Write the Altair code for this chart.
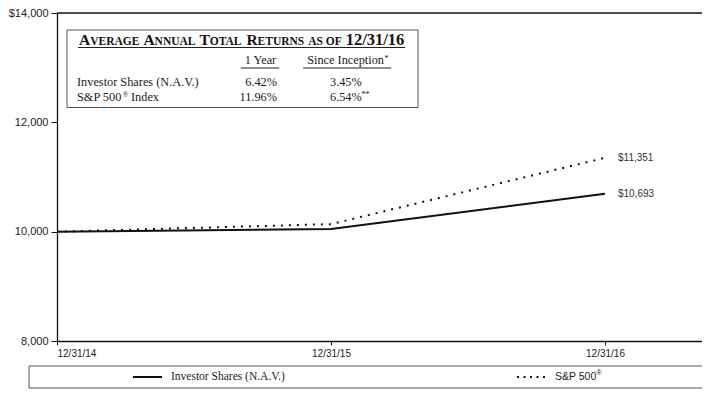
import json
import altair as alt
import pandas as pd

# ---------------- data ----------------
periods = ["12/31/14", "12/31/15", "12/31/16"]
investor = [10000, 10048, 10693]
sp500 = [10000, 10138, 11351]
series_names = ["Investor Shares (N.A.V.)", "S&P 500"]
y_ticks = [8000, 10000, 12000, 14000]

col_heads = ["1 Year", "Since Inception"]
row_names = ["Investor Shares (N.A.V.)", "S&P 500", "Index"]
one_year = ["6.42%", "11.96%"]
since_inc = ["3.45%", "6.54%"]

# ---------------- layout ----------------
LEFT = 49
W, H = 694 - LEFT, 328
PER_YEAR = 274.0
x_max = W / PER_YEAR
OX = 57 - 55  # shift of the plot origin vs. the reference

SERIF = "Liberation Serif, Times New Roman, serif"
SANS = "Liberation Sans, Arial, sans-serif"

rows = []
for i, p in enumerate(periods):
    rows.append({"t": i, "value": investor[i], "series": "inv"})
    rows.append({"t": i, "value": sp500[i], "series": "sp"})
df = pd.DataFrame(rows)

label_expr = json.dumps(periods) + "[datum.value]"

xenc = alt.X(
    "t:Q",
    scale=alt.Scale(domain=[0, x_max], nice=False, zero=False),
    axis=alt.Axis(
        values=[0, 1, 2], labelExpr=label_expr, title=None, grid=False,
        domainColor="#111", domainWidth=1.3, tickColor="#111", tickSize=4,
        labelFont=SANS, labelFontSize=10, labelColor="#222", labelPadding=3,
    ),
)
yenc = alt.Y(
    "value:Q",
    scale=alt.Scale(domain=[8000, 14000], nice=False, zero=False),
    axis=alt.Axis(
        values=y_ticks, title=None, grid=False,
        labelExpr="datum.value == 14000 ? '$14,000' : format(datum.value, ',')",
        domainColor="#111", domainWidth=1.3, tickColor="#111", tickSize=6,
        labelFont=SANS, labelFontSize=11, labelColor="#222", labelPadding=3,
    ),
)

base = alt.Chart(df).encode(x=xenc, y=yenc)

line_inv = base.transform_filter(alt.datum.series == "inv").mark_line(
    color="#111", strokeWidth=2)
line_sp = base.transform_filter(alt.datum.series == "sp").mark_line(
    color="#111", strokeWidth=2, strokeDash=[2, 6])

df_end = pd.DataFrame({
    "t": [2, 2],
    "value": [sp500[-1], investor[-1]],
})
end_labels = alt.Chart(df_end).transform_calculate(
    label="'$' + format(datum.value, ',')"
).mark_text(align="left", baseline="middle", dx=13, font=SANS,
            fontSize=10, color="#333").encode(
    x="t:Q", y="value:Q", text="label:N")

top_border = alt.Chart(pd.DataFrame({"value": [14000]})).mark_rule(
    color="#111", strokeWidth=1.3).encode(y="value:Q")


def txt(s, x, y, **kw):
    style = dict(baseline="alphabetic", align="left", font=SERIF,
                 fontSize=12.3, color="#1a1a1a")
    style.update(kw)
    return alt.Chart(pd.DataFrame({"s": [s]})).mark_text(**style).encode(
        x=alt.value(x - OX), y=alt.value(y), text="s:N")


def hrule(x1, x2, y, **kw):
    style = dict(color="#222", strokeWidth=1)
    style.update(kw)
    return alt.Chart(pd.DataFrame({"a": [0]})).mark_rule(**style).encode(
        x=alt.value(x1 - OX), x2=alt.value(x2 - OX), y=alt.value(y))


def box(x1, x2, y1, y2):
    return alt.Chart(pd.DataFrame({"a": [0]})).mark_rect(
        fill="white", stroke="#555", strokeWidth=1).encode(
        x=alt.value(x1 - OX), x2=alt.value(x2 - OX), y=alt.value(y1), y2=alt.value(y2))


layers = [top_border, line_sp, line_inv, end_labels]

# ---- returns table ----
layers.append(box(12, 363, 17, 94.5))
TY = 32
C, S, D = 15.5, 11.5, 16.5
title_parts = [
    ("A", 24, C), ("VERAGE", 35.2, S),
    ("A", 88.4, C), ("NNUAL", 99.6, S),
    ("T", 144.5, C), ("OTAL", 154.8, S),
    ("R", 191.4, C), ("ETURNS", 202.6, S),
    ("AS OF", 253.2, S),
    ("12/31/16", 290.7, D),
]
for s, x, fs in title_parts:
    layers.append(txt(s, x, TY, fontSize=fs, fontWeight="bold", color="#111"))
layers.append(hrule(23, 350, 34.5, strokeWidth=1))

HY = 50.5
layers.append(txt(col_heads[0], 205.5, HY, align="center"))
layers.append(hrule(186, 224, 55))
layers.append(txt(col_heads[1], 329, HY, align="right"))
layers.append(txt("*", 329.5, HY - 3, fontSize=8))
layers.append(hrule(248, 336, 55))

R1, R2 = 72.8, 88.3
layers.append(txt(row_names[0], 22, R1))
layers.append(txt(row_names[1], 22, R2))
layers.append(txt("®", 67.5, R2 - 4, fontSize=7.5))
layers.append(txt(row_names[2], 76, R2))
layers.append(txt(one_year[0], 222, R1, align="right"))
layers.append(txt(one_year[1], 222, R2, align="right"))
layers.append(txt(since_inc[0], 275, R1))
layers.append(txt(since_inc[1], 275, R2))
layers.append(txt("**", 306.5, R2 - 4, fontSize=8))

# ---- legend box ----
LY = 364
layers.append(box(-26, 647 + OX, 353, 375))
layers.append(hrule(78, 107, LY, color="#111", strokeWidth=2))
layers.append(txt(series_names[0], 116, LY, baseline="middle", fontSize=11.5))
layers.append(hrule(462, 490, LY, color="#111", strokeWidth=2, strokeDash=[2, 4.5]))
layers.append(txt(series_names[1], 500, LY, baseline="middle", font=SANS,
                  fontSize=10.5, color="#222"))
layers.append(txt("®", 541.5, LY - 4, baseline="middle", font=SANS,
                  fontSize=7, color="#222"))

chart = alt.layer(*layers).properties(
    width=W, height=H,
    autosize=alt.AutoSizeParams(type="none"),
    padding={"left": LEFT, "top": 5, "right": 0, "bottom": 48},
).configure_view(stroke=None)

chart.save("out.html", embed_options={"renderer": "svg", "actions": False})
